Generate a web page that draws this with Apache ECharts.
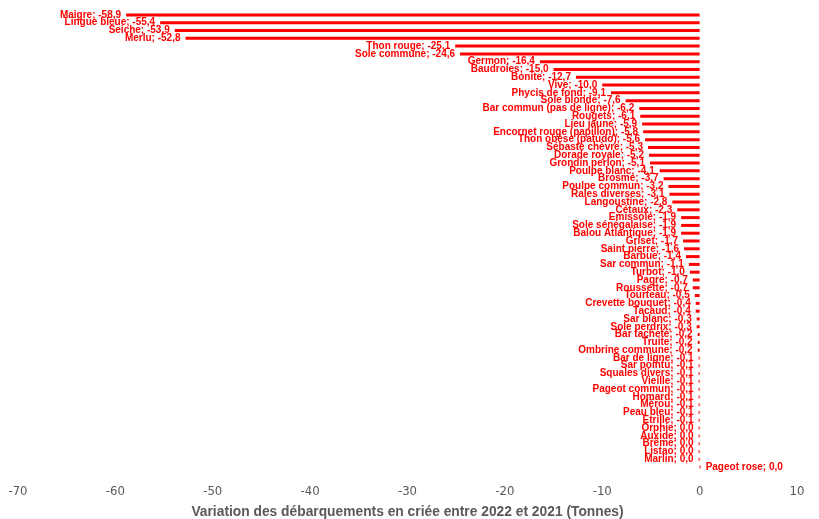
<!DOCTYPE html>
<html>
<head>
<meta charset="utf-8">
<script src="https://cdn.jsdelivr.net/npm/echarts@6/dist/echarts.min.js"></script>
<style>html,body{margin:0;padding:0;background:#fff}#c{width:819px;height:519px}</style>
</head>
<body>
<div id="c"></div>
<script>
const categories = ["Maigre","Lingue bleue","Seiche","Merlu","Thon rouge","Sole commune","Germon","Baudroies","Bonite","Vive","Phycis de fond","Sole blonde","Bar commun (pas de ligne)","Rougets","Lieu jaune","Encornet rouge (papillon)","Thon obèse (patudo)","Sébaste chèvre","Dorade royale","Grondin perlon","Poulpe blanc","Brosme","Poulpe commun","Raies diverses","Langoustine","Cétaux","Emissole","Sole sénégalaise","Balou Atlantique","Griset","Saint pierre","Barbue","Sar commun","Turbot","Pagre","Roussette","Tourteau","Crevette bouquet","Tacaud","Sar blanc","Sole perdrix","Bar tacheté","Truite","Ombrine commune","Bar de ligne","Sar pointu","Squales divers","Vieille","Pageot commun","Homard","Mérou","Peau bleu","Etrille","Orphie","Auxide","Brême","Listao","Marlin","Pageot rose"];
const values = [-58.9,-55.4,-53.9,-52.8,-25.1,-24.6,-16.4,-15.0,-12.7,-10.0,-9.1,-7.6,-6.2,-6.1,-5.9,-5.8,-5.6,-5.3,-5.2,-5.1,-4.1,-3.7,-3.2,-3.1,-2.8,-2.3,-1.9,-1.9,-1.9,-1.7,-1.6,-1.4,-1.1,-1.0,-0.7,-0.7,-0.5,-0.4,-0.4,-0.3,-0.3,-0.2,-0.2,-0.2,-0.1,-0.1,-0.1,-0.1,-0.1,-0.1,-0.1,-0.1,-0.1,-0.04,-0.03,-0.03,-0.02,-0.02,0.02];
const xTicks = {min: -70, max: 10, interval: 10};
const axisTitle = "Variation des débarquements en criée entre 2022 et 2021 (Tonnes)";

function fmt(v){
  let s = v.toFixed(1).replace('.', ',');
  if (s === '-0,0') s = '0,0';
  return s;
}

const chart = echarts.init(document.getElementById('c'), null, {renderer: 'canvas'});
chart.setOption({
  animation: false,
  grid: {left: 18, right: 22, top: 11, bottom: 48, containLabel: false, outerBoundsMode: 'none'},
  xAxis: {
    type: 'value', min: xTicks.min, max: xTicks.max, interval: xTicks.interval,
    axisLine: {show: false}, axisTick: {show: false}, splitLine: {show: false},
    axisLabel: {color: '#595959', fontSize: 13, fontFamily: '"DejaVu Sans Condensed", "Liberation Sans", sans-serif', margin: 14},
    name: axisTitle, nameLocation: 'middle', nameGap: 34,
    nameTextStyle: {color: '#595959', fontSize: 13.8, fontWeight: 'bold', fontFamily: '"Liberation Sans", sans-serif'}
  },
  yAxis: {
    type: 'category', data: categories, inverse: true,
    axisLine: {show: false}, axisTick: {show: false}, axisLabel: {show: false}, splitLine: {show: false}
  },
  series: [{
    type: 'bar', barWidth: 3, barMinHeight: 1,
    itemStyle: {color: '#FF0000'},
    data: values.map(v => ({value: v, label: {position: v < 0 ? 'left' : 'right'}})),
    label: {
      show: true, distance: 5, color: '#FF0000', fontSize: 10, fontWeight: 'bold', fontFamily: '"Liberation Sans", sans-serif',
      formatter: p => p.name + '; ' + fmt(p.value)
    }
  }]
});
</script>
</body>
</html>
